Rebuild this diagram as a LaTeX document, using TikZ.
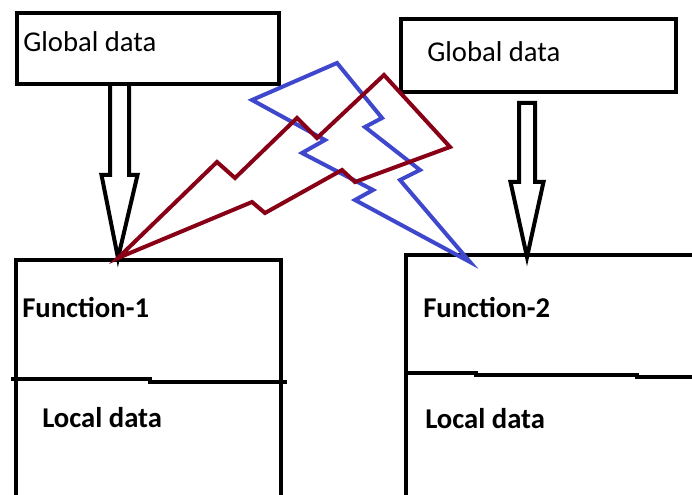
\documentclass[tikz,border=0pt]{standalone}
\usepackage{fontspec}
\setmainfont{Carlito}
\usetikzlibrary{calc}

\definecolor{boltred}{RGB}{136,0,21}
\definecolor{boltblue}{RGB}{63,72,204}

\tikzset{
 boxline/.style={line width=3.6pt},
 hollow/.style={line width=3pt, line join=miter},
 bolt/.style={line width=3pt, line join=miter},
 gtext/.style={anchor=base west, inner sep=0pt, font=\fontsize{21.5}{26}\selectfont},
 ftext/.style={anchor=base west, inner sep=0pt, font=\bfseries\fontsize{21.5}{26}\selectfont},
}

\begin{document}
\begin{tikzpicture}[x=0.75pt,y=0.75pt,yscale=-1,xscale=1]
 \fill[white] (0,0) rectangle (692,495);
 \useasboundingbox (0,0) rectangle (692,495);

 \coordinate (g1) at (119.5,84);
 \coordinate (f1) at (118,258);
 \coordinate (g2) at (527,103);
 \coordinate (f2) at (527,257);
 \coordinate (f2b) at (470,262);

 % global data boxes
 \draw[boxline] (17,13) rectangle (279,84);
 \draw[boxline] (401,19) rectangle (676,92);
 % function boxes, open at the page edge
 \draw[boxline] (16,495) -- (16,260) -- (281,260) -- (281,495);
 \draw[boxline] (11,379) -- (150,379) -- (150,382) -- (287,382);
 \draw[boxline] (406,495) -- (406,255) -- (692,255);
 \draw[boxline] (404,373) -- (476,373) -- (476,375) -- (637,375) -- (637,377) -- (692,377);

 \draw[hollow] ($(g1)+(-9.5,0)$) -- ($(g1)+(-9.5,91)$) -- ($(g1)+(-18,91)$) -- (f1)
   -- ($(g1)+(18,91)$) -- ($(g1)+(9.5,91)$) -- ($(g1)+(9.5,0)$);
 \draw[hollow] ($(g2)+(-8,0)$) -- ($(g2)+(-8,79)$) -- ($(g2)+(-16.5,79)$) -- (f2)
   -- ($(g2)+(16.5,79)$) -- ($(g2)+(8,79)$) -- ($(g2)+(8,0)$) -- cycle;

 % lightning
 \draw[bolt, boltblue] (f2b) -- (400,180) -- (420,170) -- (365,127) -- (382,118) -- (337,63)
   -- (252,100) -- (325,140) -- (302,153) -- (373,190) -- (355,200) -- cycle;
 \draw[bolt, boltred] (f1) -- (217,162) -- (235,178) -- (297,118) -- (317,138) -- (384,75)
   -- (450,147) -- (355,182) -- (342,170) -- (265,213) -- (252,202) -- cycle;

 \node[gtext] (glob1) at (23,52) {Global data};
 \node[gtext] (glob2) at (427,62) {Global data};
 \node[ftext] (fun1) at (22,317) {Function-1};
 \node[ftext] (fun2) at (423,317) {Function-2};
 \node[ftext] (loc1) at (42,427) {Local data};
 \node[ftext] (loc2) at (425,428) {Local data};
\end{tikzpicture}
\end{document}
